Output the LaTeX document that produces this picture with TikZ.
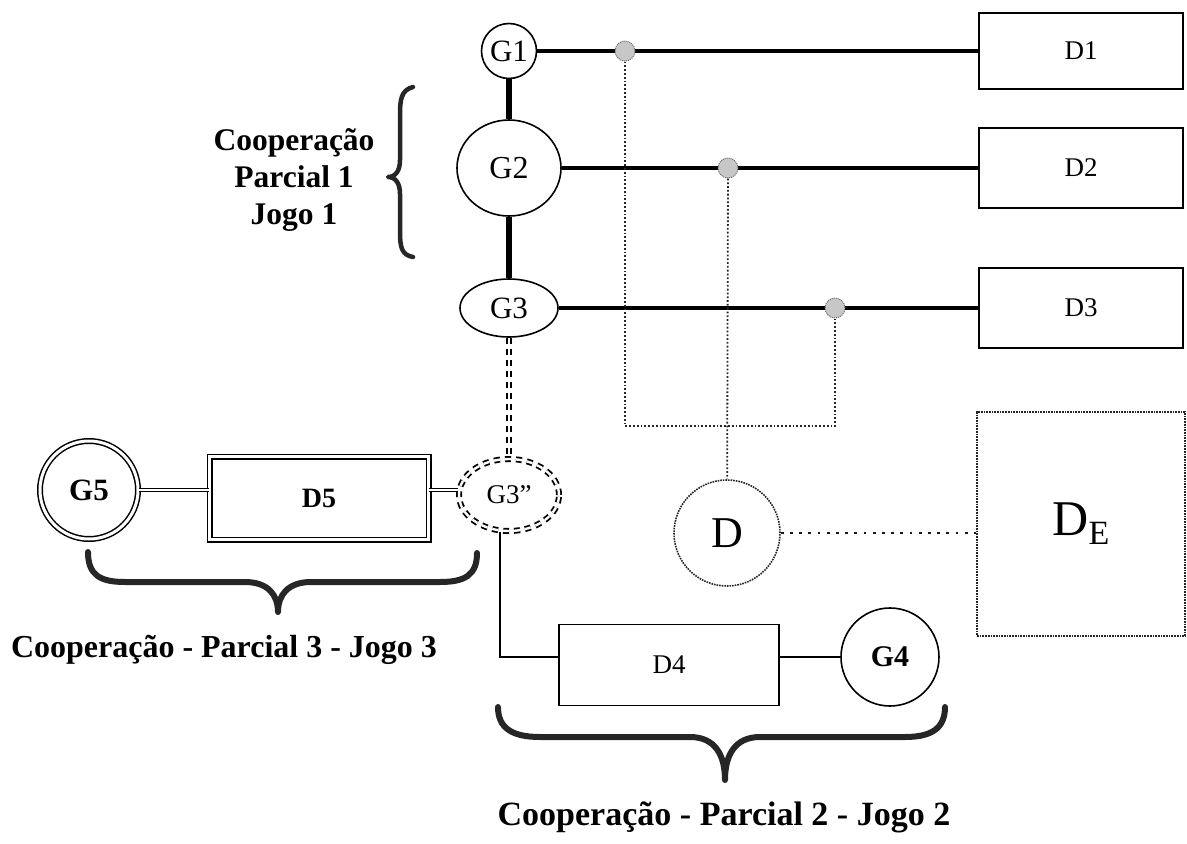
\documentclass[tikz,border=0pt]{standalone}
\usepackage{fontspec}
\setmainfont{Liberation Serif}
\usetikzlibrary{shapes.geometric}
\newcommand{\fsz}[1]{\fontsize{#1}{#1}\selectfont}
\begin{document}
\begin{tikzpicture}[x=1pt, y=-1pt,
	gen/.style={circle, draw, line width=1.6pt, inner sep=0pt, font=\fsz{31}},
	genov/.style={ellipse, draw, line width=1.6pt, inner sep=0pt, font=\fsz{31}},
	load/.style={rectangle, draw, line width=1.6pt, inner sep=0pt, minimum width=204pt, minimum height=76pt, font=\fsz{27}},
	bus/.style={line width=#1},
	tap/.style={circle, fill=black!22, draw=black!60, densely dotted, line width=1pt, minimum size=20pt, inner sep=0pt},
	dotline/.style={dotted, line width=1.8pt, black!85},
	dbl/.style={double, double distance=2.5pt, line width=1.2pt},
	dbldash/.style={double, double distance=2.4pt, line width=1.8pt, dash pattern=on 6pt off 5pt},
	brace/.style={line width=#1, line cap=round, line join=round, black!85},
	lbl/.style={font=\fsz{32}\bfseries}]
	\useasboundingbox (0,0) rectangle (1187,844);
	% geradores do jogo 1
	\node[gen, minimum size=55pt] (G1) at (509,51) {G1};
	\node[genov, minimum width=104pt, minimum height=96pt, font=\fsz{32}] (G2) at (509,168) {G2};
	\node[genov, minimum width=98pt, minimum height=58pt] (G3) at (509,308) {G3};
	\node[load] (D1) at (1081,51) {D1};
	\node[load, minimum height=80pt] (D2) at (1081,168) {D2};
	\node[load, minimum height=80pt] (D3) at (1081,308) {D3};
	\draw[bus=6pt] (G1) -- (G2);
	\draw[bus=6pt] (G2) -- (G3);
	\draw[bus=4.5pt] (G1.east) -- (G1.east -| D1.west);
	\draw[bus=3.5pt] (G2.east) -- (G2.east -| D2.west);
	\draw[bus=4pt] (G3.east) -- (G3.east -| D3.west);
	% pontos de medida e demanda total
	\node[tap] (tapA) at (625,51) {};
	\node[tap] (tapB) at (728,168) {};
	\node[tap] (tapC) at (835,308) {};
	\coordinate (hub) at (728,426);
	\node[gen, draw=black!85, densely dotted, line width=1.6pt, minimum size=106pt, font=\fsz{44}] (D) at (727,533) {D};
	\node[rectangle, draw=black!85, densely dotted, line width=1.7pt, minimum width=208pt, minimum height=224pt, font=\fsz{50}] (DE) at (1081,524) {D\raisebox{-9pt}{\fsz{34}E}};
	\draw[dotline] (tapA) |- (hub) -| (tapC);
	\draw[dotline] (tapB) -- (D);
	\draw[line width=2.8pt, black!90, dash pattern=on 2.8pt off 6.4pt] (D) -- (D -| DE.west);
	% jogos 2 e 3
	\node[gen, double, double distance=3pt, line width=1.5pt, minimum size=98pt, font=\fsz{31}\bfseries] (G5) at (89,490) {G5};
	\node[load, double, double distance=3pt, line width=1.5pt, minimum width=219pt, minimum height=83pt, font=\fsz{28}\bfseries] (D5) at (319,498) {D5};
	\node[genov, dbldash, minimum width=100pt, minimum height=72pt, font=\fsz{27}] (G3b) at (509,495) {G3”};
	\node[load, minimum width=220pt, minimum height=81pt] (D4) at (669,665) {D4};
	\node[gen, minimum size=98pt, font=\fsz{30}\bfseries] (G4) at (890,657) {G4};
	\draw[dbl] (G5) -- (G5 -| D5.west);
	\draw[dbl] (D5.east |- G5) -- (G3b.west |- G5);
	\draw[dbldash] (G3) -- (G3b);
	\draw[line width=1.6pt] ([xshift=-9pt]G3b.south) |- (D4.west |- G4);
	\draw[line width=1.6pt] (D4.east |- G4) -- (G4);
	% chaves
	\draw[brace=4.5pt] (413,87) .. controls (401,90) and (400,100) .. (400,115) -- (400,160)
		.. controls (400,170) and (396,177) .. (388,177) % ponta
		.. controls (396,177) and (400,184) .. (400,194) -- (400,232)
		.. controls (400,248) and (402,255) .. (413,257);
	\draw[brace=6pt] (88,552) .. controls (88,575) and (100,582) .. (125,582) -- (245,582)
		.. controls (268,582) and (278,595) .. (278,612) % ponta
		.. controls (278,595) and (288,582) .. (311,582) -- (440,582)
		.. controls (465,582) and (477,575) .. (477,553);
	\draw[brace=6pt] (498,707) .. controls (498,728) and (512,737) .. (540,737) -- (690,737)
		.. controls (715,737) and (725,755) .. (725,780) % ponta
		.. controls (725,755) and (735,737) .. (760,737) -- (905,737)
		.. controls (932,737) and (945,728) .. (945,707);
	% legendas
	\node[lbl, align=center, font=\fontsize{31.5}{37}\selectfont\bfseries] (coop1) at (294,180) {Cooperação\\Parcial 1\\Jogo 1};
	\node[lbl] (coop3) at (224,650) {Cooperação - Parcial 3 - Jogo 3};
	\node[lbl, font=\fsz{34}\bfseries] (coop2) at (724,817) {Cooperação - Parcial 2 - Jogo 2};
\end{tikzpicture}
\end{document}
